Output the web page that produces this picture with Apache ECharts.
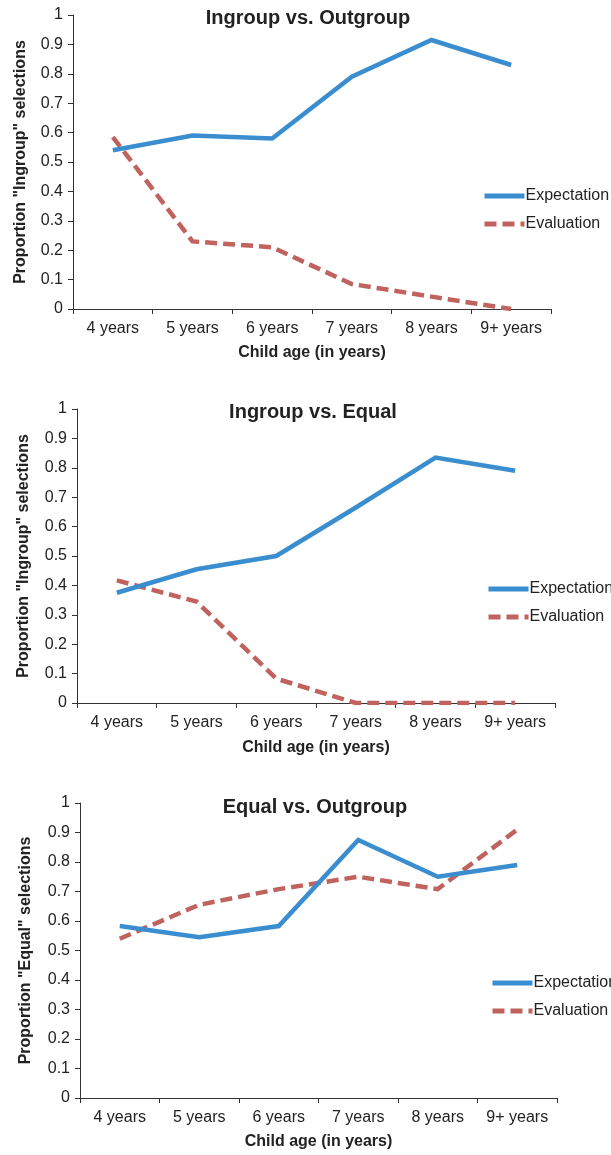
<!DOCTYPE html>
<html>
<head>
<meta charset="utf-8">
<script src="https://cdn.jsdelivr.net/npm/echarts@6/dist/echarts.min.js"></script>
<style>
html,body{margin:0;padding:0;background:#fff;}
#c{width:611px;height:1155px;}
</style>
</head>
<body>
<div id="c"></div>
<script>
const categories = ['4 years', '5 years', '6 years', '7 years', '8 years', '9+ years'];
const titles = ['Ingroup vs. Outgroup', 'Ingroup vs. Equal', 'Equal vs. Outgroup'];
const yNames = ['Proportion "Ingroup" selections', 'Proportion "Ingroup" selections', 'Proportion "Equal" selections'];
const xName = 'Child age (in years)';
const seriesNames = ['Expectation', 'Evaluation'];

const expectation1 = [0.54, 0.59, 0.58, 0.79, 0.915, 0.83];
const evaluation1  = [0.585, 0.23, 0.21, 0.085, 0.042, 0.0];
const expectation2 = [0.375, 0.455, 0.50, 0.665, 0.835, 0.79];
const evaluation2  = [0.417, 0.345, 0.083, 0.0, 0.0, 0.0];
const expectation3 = [0.583, 0.545, 0.583, 0.875, 0.75, 0.79];
const evaluation3  = [0.54, 0.655, 0.708, 0.75, 0.708, 0.91];

const expData = [expectation1, expectation2, expectation3];
const evalData = [evaluation1, evaluation2, evaluation3];

const FONT = '"Liberation Sans", Arial, sans-serif';
const BLUE = '#3a8ecf';
const RED = '#c0625e';
const AX = '#333';
const TXT = '#222';

const grids = [
  {left: 73, top: 15, width: 478, height: 294},
  {left: 77, top: 409, width: 478, height: 294},
  {left: 80, top: 803, width: 477, height: 295}
];
const yNameGap = [44, 45, 46];
const xNameGap = [36, 37, 36];
const titlePos = [{x: 308, y: 8}, {x: 313, y: 402}, {x: 315, y: 797}];
const legendPos = [{l: 482, t: 188}, {l: 486, t: 581}, {l: 490, t: 975}];

const option = {
  animation: false,
  backgroundColor: '#fff',
  title: titles.map((t, i) => ({
    text: t, left: titlePos[i].x, top: titlePos[i].y, textAlign: 'center', padding: 0,
    textStyle: {fontFamily: FONT, fontSize: 20, fontWeight: 'bold', color: TXT}
  })),
  legend: grids.map((g, i) => ({
    data: seriesNames, orient: 'vertical', left: legendPos[i].l, top: legendPos[i].t,
    itemWidth: 40, itemHeight: 6, itemGap: 12, padding: 0,
    itemStyle: {opacity: 0},
    lineStyle: {width: 5},
    textStyle: {fontFamily: FONT, fontSize: 16, color: TXT, padding: [0, 0, 0, -4]},
    selectedMode: false
  })),
  grid: grids.map(g => Object.assign({containLabel: false}, g)),
  xAxis: grids.map((g, i) => ({
    type: 'category', gridIndex: i, data: categories, boundaryGap: true,
    name: xName, nameLocation: 'middle', nameGap: xNameGap[i],
    nameTextStyle: {fontFamily: FONT, fontSize: 16, fontWeight: 'bold', color: TXT, verticalAlign: 'top'},
    axisLine: {lineStyle: {color: AX, width: 1}},
    axisTick: {show: true, alignWithLabel: false, length: 5, inside: false, lineStyle: {color: AX}},
    axisLabel: {fontFamily: FONT, fontSize: 16, color: TXT, margin: 12, interval: 0},
    splitLine: {show: false}
  })),
  yAxis: grids.map((g, i) => ({
    type: 'value', gridIndex: i, min: 0, max: 1, interval: 0.1,
    name: yNames[i], nameLocation: 'middle', nameGap: yNameGap[i], nameRotate: 90,
    nameTextStyle: {fontFamily: FONT, fontSize: 16, fontWeight: 'bold', color: TXT},
    axisLine: {show: true, lineStyle: {color: AX, width: 1}},
    axisTick: {show: true, length: 5, lineStyle: {color: AX}},
    axisLabel: {fontFamily: FONT, fontSize: 16, color: TXT, margin: 10,
      formatter: v => (Math.round(v * 10) / 10).toString()},
    splitLine: {show: false}
  })),
  series: []
};

for (let i = 0; i < 3; i++) {
  option.series.push({
    name: seriesNames[0], type: 'line', xAxisIndex: i, yAxisIndex: i,
    data: expData[i], showSymbol: false, symbol: 'none', smooth: false, z: 3,
    color: BLUE,
    lineStyle: {color: BLUE, width: 4.5, cap: 'butt', join: 'miter'}
  });
  option.series.push({
    name: seriesNames[1], type: 'line', xAxisIndex: i, yAxisIndex: i,
    data: evalData[i], showSymbol: false, symbol: 'none', smooth: false, z: 2,
    color: RED,
    lineStyle: {color: RED, width: 4.5, type: [12, 6], cap: 'butt', join: 'miter'}
  });
}

const chart = echarts.init(document.getElementById('c'), null, {renderer: 'canvas'});
chart.setOption(option);
</script>
</body>
</html>
